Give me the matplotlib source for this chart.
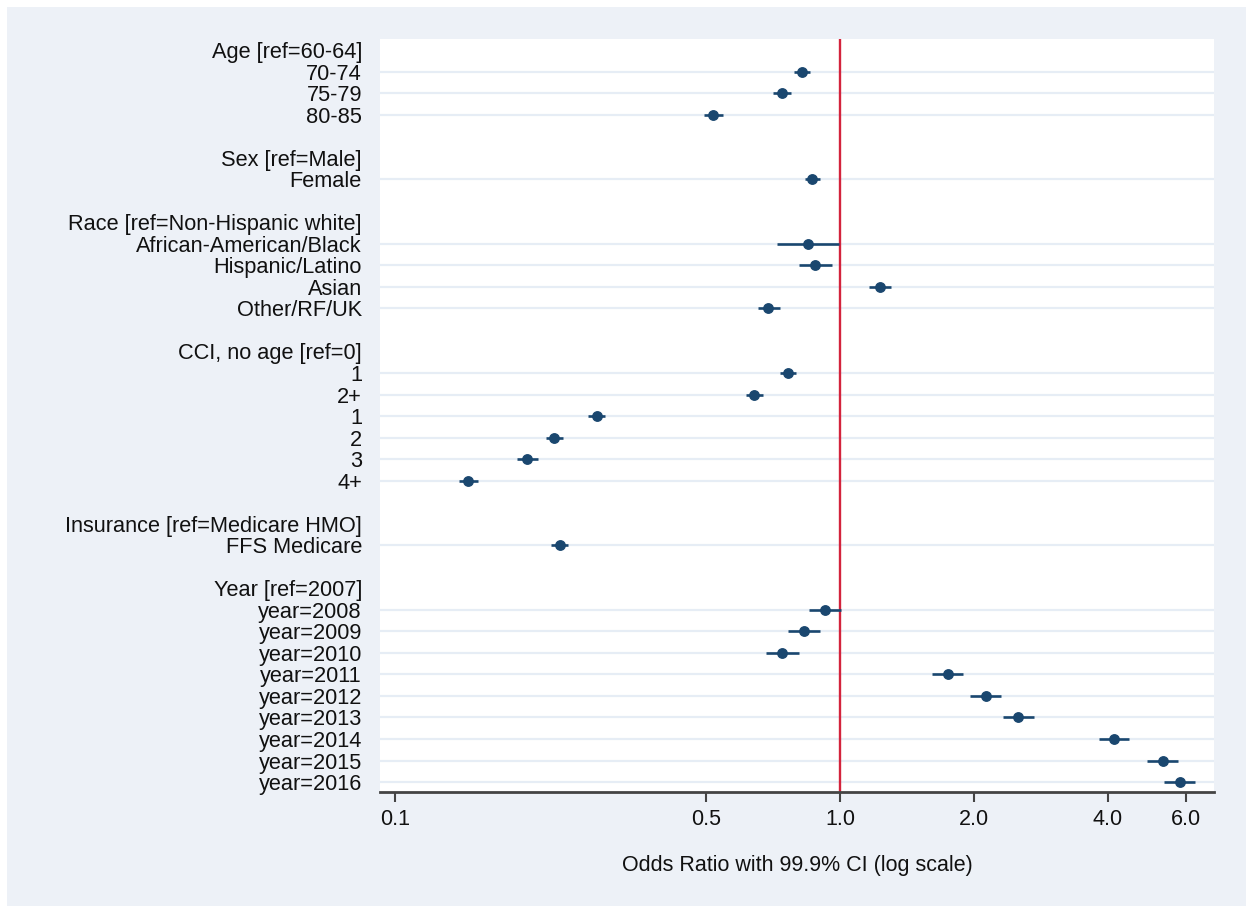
import matplotlib.pyplot as plt
from matplotlib.patches import Rectangle
from matplotlib.ticker import FixedLocator, NullLocator

# rows, top to bottom; '' = blank spacer row
labels = ["Age [ref=60-64]", "70-74", "75-79", "80-85", "",
          "Sex [ref=Male]", "Female", "",
          "Race [ref=Non-Hispanic white]", "African-American/Black", "Hispanic/Latino", "Asian", "Other/RF/UK", "",
          "CCI, no age [ref=0]", "1", "2+", "1", "2", "3", "4+", "",
          "Insurance [ref=Medicare HMO]", "FFS Medicare", "",
          "Year [ref=2007]", "year=2008", "year=2009", "year=2010", "year=2011", "year=2012",
          "year=2013", "year=2014", "year=2015", "year=2016"]

# odds ratios and 99.9% CI (None = header / spacer row)
odds = [None, 0.821, 0.741, 0.518, None,
        None, 0.865, None,
        None, 0.849, 0.880, 1.228, 0.690, None,
        None, 0.762, 0.640, 0.284, 0.228, 0.198, 0.146, None,
        None, 0.235, None,
        None, 0.925, 0.830, 0.742, 1.746, 2.129, 2.512, 4.121, 5.311, 5.80]
lower = [None, 0.788, 0.707, 0.495, None,
         None, 0.832, None,
         None, 0.722, 0.810, 1.160, 0.654, None,
         None, 0.731, 0.613, 0.272, 0.218, 0.188, 0.139, None,
         None, 0.224, None,
         None, 0.852, 0.764, 0.682, 1.612, 1.963, 2.325, 3.813, 4.905, 5.356]
upper = [None, 0.856, 0.776, 0.545, None,
         None, 0.902, None,
         None, 0.995, 0.959, 1.302, 0.731, None,
         None, 0.794, 0.670, 0.296, 0.239, 0.209, 0.1536, None,
         None, 0.245, None,
         None, 1.005, 0.902, 0.808, 1.893, 2.297, 2.724, 4.468, 5.748, 6.28]

xticks = [0.1, 0.5, 1.0, 2.0, 4.0, 6.0]
xticklabels = ["0.1", "0.5", "1.0", "2.0", "4.0", "6.0"]

navy = "#1a476f"
bg = "#edf1f7"
gridc = "#e6edf5"

plt.rcParams['font.family'] = ['Liberation Sans', 'DejaVu Sans']

fig = plt.figure(figsize=(12.53, 9.06), dpi=100, facecolor="white")
fig.patches.append(Rectangle((7 / 1253, 0), (1246 - 7) / 1253, (906 - 7) / 906,
                             transform=fig.transFigure, facecolor=bg, edgecolor="none", zorder=-10))

ax = fig.add_axes([380 / 1253, 1 - 792 / 906, (1214 - 380) / 1253, (792 - 39) / 906])
ax.set_facecolor("white")

rows = list(range(len(labels)))
for i in rows:
    if odds[i] is None:
        continue
    ax.axhline(i, color=gridc, lw=1.6, zorder=0)
    ax.plot([lower[i], upper[i]], [i, i], color=navy, lw=1.9, solid_capstyle="butt", zorder=2)
    ax.plot(odds[i], i, "o", color=navy, ms=6.8, zorder=3)

ax.axvline(1.0, color="#d3233c", lw=1.7, zorder=1)

ax.set_xscale("log")
ax.set_xlim(0.0925, 6.92)
ax.set_ylim(len(labels) - 1 + 0.46, -0.51)

ax.set_yticks(rows)
ax.set_yticklabels(labels, fontsize=15.7, color="#111111")
ax.tick_params(axis="y", length=0, pad=13)

ax.xaxis.set_major_locator(FixedLocator(xticks))
ax.xaxis.set_minor_locator(NullLocator())
ax.set_xticklabels(xticklabels, fontsize=15.5, color="#111111")
ax.tick_params(axis="x", length=7, width=1.5, color="#444444", pad=5)

for s in ["top", "left", "right"]:
    ax.spines[s].set_visible(False)
ax.spines["bottom"].set_color("#444444")
ax.spines["bottom"].set_linewidth(2)

ax.set_xlabel("Odds Ratio with 99.9% CI (log scale)", fontsize=15.5, labelpad=18, color="#111111")

fig.savefig("out.png", dpi=100, facecolor=fig.get_facecolor())
